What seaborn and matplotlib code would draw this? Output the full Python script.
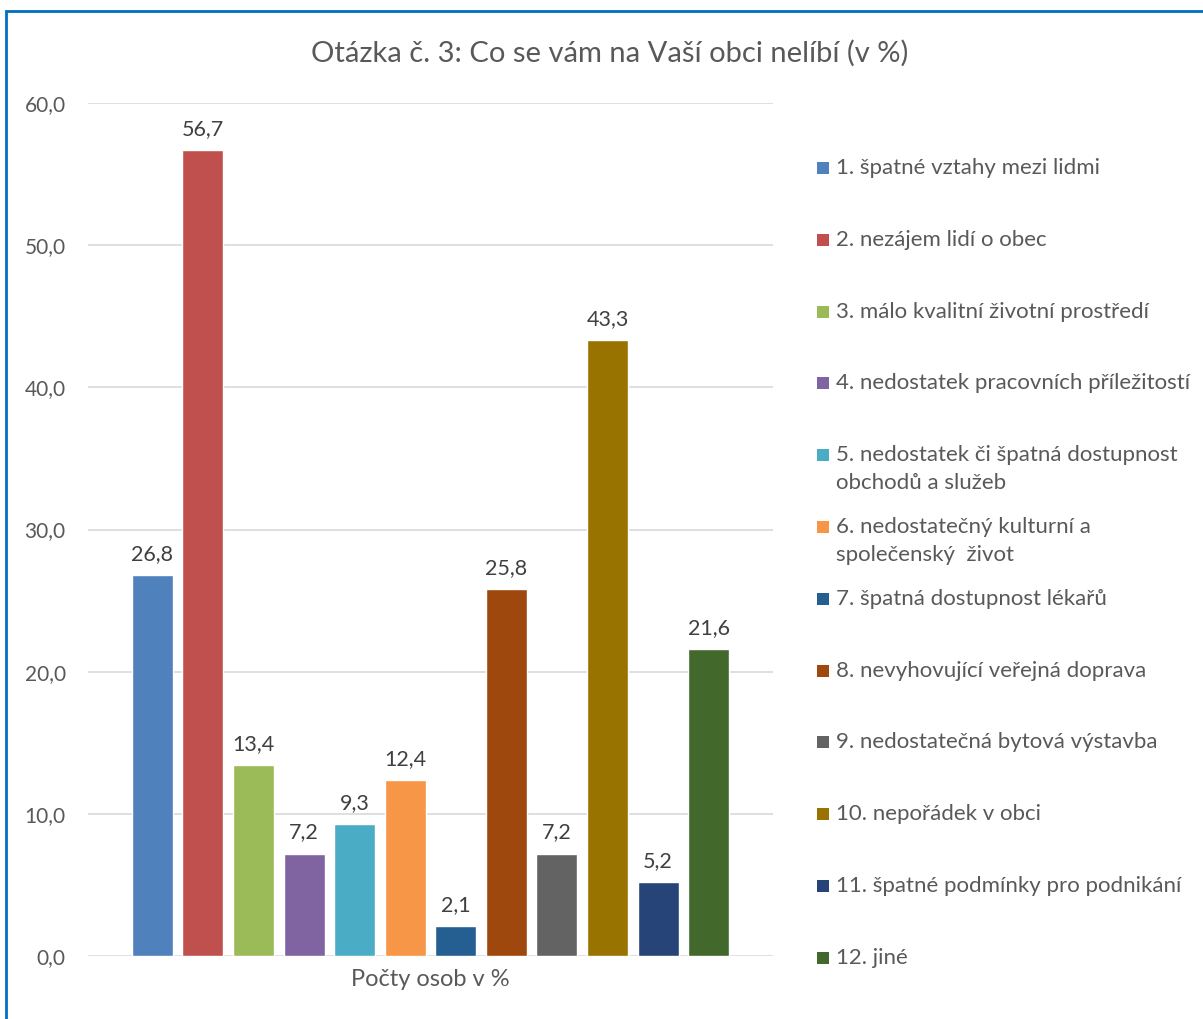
import matplotlib
matplotlib.use("Agg")
import matplotlib.pyplot as plt
from matplotlib.patches import Rectangle
import seaborn as sns
import pandas as pd

# data
kategorie = "Počty osob v %"
polozky = [
    "1. špatné vztahy mezi lidmi",
    "2. nezájem lidí o obec",
    "3. málo kvalitní životní prostředí",
    "4. nedostatek pracovních příležitostí",
    "5. nedostatek či špatná dostupnost\nobchodů a služeb",
    "6. nedostatečný kulturní a\nspolečenský  život",
    "7. špatná dostupnost lékařů",
    "8. nevyhovující veřejná doprava",
    "9. nedostatečná bytová výstavba",
    "10. nepořádek v obci",
    "11. špatné podmínky pro podnikání",
    "12. jiné",
]
hodnoty = [26.8, 56.7, 13.4, 7.2, 9.3, 12.4, 2.1, 25.8, 7.2, 43.3, 5.2, 21.6]
barvy = ["#4F81BD", "#C0504D", "#9BBB59", "#8064A2", "#4BACC6", "#F79646",
         "#255E91", "#9E480E", "#636363", "#997300", "#264478", "#43682B"]
yticks = [0, 10, 20, 30, 40, 50, 60]

sns.set_style("white")
plt.rcParams["font.family"] = ["Lato", "DejaVu Sans"]
text_col = "#595959"

df = pd.DataFrame({"kat": [kategorie] * len(hodnoty), "typ": polozky, "hodnota": hodnoty})

fig = plt.figure(figsize=(12.03, 10.19), dpi=100)
ax = fig.add_axes([88 / 1203, 63 / 1019, 685 / 1203, 853 / 1019])

sns.barplot(data=df, x="kat", y="hodnota", hue="typ", hue_order=polozky,
            palette=barvy, saturation=1, width=0.886, gap=0.19,
            legend=False, ax=ax)

for cont in ax.containers:
    ax.bar_label(cont, fmt=lambda v: f"{v:.1f}".replace(".", ","),
                 padding=8, fontsize=15.5, color="#404040")

ax.set_xlim(-0.5, 0.5)
ax.set_ylim(0, 60)
ax.set_yticks(yticks)
ax.set_yticklabels([f"{t:.1f}".replace(".", ",") for t in yticks],
                   fontsize=15, color=text_col)
ax.tick_params(axis="y", length=0, pad=16)
ax.tick_params(axis="x", length=0, pad=9, labelsize=17, labelcolor=text_col)
ax.set_xlabel("")
ax.set_ylabel("")
ax.yaxis.grid(True, color="#D9D9D9", linewidth=1.2)
ax.set_axisbelow(True)
for s in ax.spines.values():
    s.set_visible(False)

fig.text(610 / 1203, 1 - 53 / 1019, "Otázka č. 3: Co se vám na Vaší obci nelíbí (v %)",
         ha="center", va="center", fontsize=21, color=text_col)

# legend, one entry per item, first lines evenly spaced
for i, (lab, col) in enumerate(zip(polozky, barvy)):
    yc = 1 - (168 + i * 71.8) / 1019
    fig.patches.append(Rectangle((817 / 1203, yc - 6 / 1019), 12 / 1203, 12 / 1019,
                                 transform=fig.transFigure, facecolor=col,
                                 edgecolor="none"))
    fig.text(836 / 1203, yc + 10 / 1019, lab, ha="left", va="top",
             fontsize=16, color=text_col, linespacing=1.5)

# chart frame
fig.patches.append(Rectangle((6 / 1203, -0.5), 2, 0.5 + 1 - 11 / 1019,
                             transform=fig.transFigure, fill=False,
                             edgecolor="#0070C0", linewidth=2, clip_on=False))

fig.savefig("out.png", dpi=100)
